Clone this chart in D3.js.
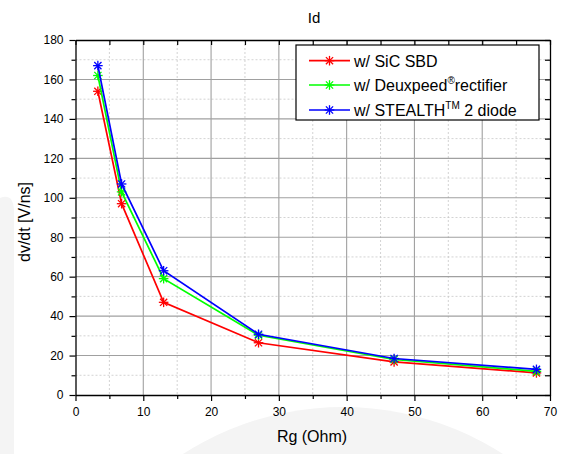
<!DOCTYPE html>
<html><head><meta charset="utf-8">
<script src="https://cdn.jsdelivr.net/npm/d3@7"></script>
<style>body{margin:0;background:#fff}svg{display:block;font-family:"Liberation Sans",Arial,sans-serif}</style>
</head><body><svg id="c" width="562" height="454"></svg>
<script>
const rg = [3.3, 6.8, 13, 27, 47, 68];
const sicSBD = [154, 97, 47, 26.5, 16.8, 11.2];
const deuxpeed = [162, 103, 59, 30.3, 18, 12];
const stealth = [167, 107, 63, 30.8, 18.5, 13];
const xTicks = [0,10,20,30,40,50,60,70];
const yTicks = [0,20,40,60,80,100,120,140,160,180];
const seriesNames = ["w/ SiC SBD", "w/ Deuxpeed", "w/ STEALTH"];
const seriesColors = ["#ff0000", "#00ff00", "#0000ff"];

const svg = d3.select("#c");
const L=75.5, R=550, T=40, B=395;
const x = d3.scaleLinear().domain([0,70]).range([L,R]);
const y = d3.scaleLinear().domain([0,180]).range([B,T]);

// faint watermark
svg.append("circle").attr("cx",343).attr("cy",703).attr("r",296).attr("fill","#f4f4f4");
svg.append("path").attr("d","M0,454 L0,198 Q13,193 14,210 L14,454 Z").attr("fill","#f4f4f4");

// grid
const g = svg.append("g");
d3.range(5,70,10).forEach(v=>g.append("line").attr("x1",x(v)).attr("x2",x(v)).attr("y1",T).attr("y2",B).attr("stroke","#c8c8c8").attr("stroke-dasharray","2,2").attr("stroke-width",0.8));
d3.range(10,180,20).forEach(v=>g.append("line").attr("y1",y(v)).attr("y2",y(v)).attr("x1",L).attr("x2",R).attr("stroke","#c8c8c8").attr("stroke-dasharray","2,2").attr("stroke-width",0.8));
xTicks.slice(1,-1).forEach(v=>g.append("line").attr("x1",x(v)).attr("x2",x(v)).attr("y1",T).attr("y2",B).attr("stroke","#a0a0a0").attr("stroke-width",1.1));
yTicks.slice(1,-1).forEach(v=>g.append("line").attr("y1",y(v)).attr("y2",y(v)).attr("x1",L).attr("x2",R).attr("stroke","#a0a0a0").attr("stroke-width",1.1));

// axes
function styleAx(sel){sel.selectAll(".domain").attr("stroke","#000").attr("stroke-width",1.3);sel.selectAll(".tick line").attr("stroke","#000").attr("stroke-width",1.2);sel.selectAll("text").attr("font-size",12).attr("font-family","Liberation Sans, Arial, sans-serif").attr("fill","#000");}
const xb = svg.append("g").attr("transform",`translate(0,${B})`).call(d3.axisBottom(x).tickValues(xTicks).tickSize(6).tickSizeOuter(0).tickPadding(6)); styleAx(xb);
const xbm = svg.append("g").attr("transform",`translate(0,${B})`).call(d3.axisBottom(x).tickValues(d3.range(5,70,10)).tickSize(4).tickFormat("")); styleAx(xbm); xbm.select(".domain").remove();
const yl = svg.append("g").attr("transform",`translate(${L},0)`).call(d3.axisLeft(y).tickValues(yTicks).tickSize(6).tickSizeOuter(0).tickPadding(6)); styleAx(yl);
const ylm = svg.append("g").attr("transform",`translate(${L},0)`).call(d3.axisLeft(y).tickValues(d3.range(10,180,20)).tickSize(4).tickFormat("")); styleAx(ylm); ylm.select(".domain").remove();
const xt = svg.append("g").attr("transform",`translate(0,${T})`).call(d3.axisBottom(x).tickValues(d3.range(0,71,5)).tickSize(5).tickSizeOuter(0).tickFormat("")); styleAx(xt);
const yr = svg.append("g").attr("transform",`translate(${R},0)`).call(d3.axisLeft(y).tickValues(d3.range(0,181,10)).tickSize(5).tickSizeOuter(0).tickFormat("")); styleAx(yr);

// series
const series = [sicSBD, deuxpeed, stealth];
const line = d3.line().x((d,i)=>x(rg[i])).y(d=>y(d));
function star(sel,cx,cy,col){
  const s=4.8, gg=sel.append("g").attr("transform",`translate(${cx},${cy})`).attr("stroke",col).attr("stroke-width",1.3);
  gg.append("line").attr("x1",-s).attr("x2",s).attr("y1",0).attr("y2",0);
  gg.append("line").attr("x1",0).attr("x2",0).attr("y1",-s).attr("y2",s);
  gg.append("line").attr("x1",-s*0.75).attr("x2",s*0.75).attr("y1",-s*0.75).attr("y2",s*0.75);
  gg.append("line").attr("x1",-s*0.75).attr("x2",s*0.75).attr("y1",s*0.75).attr("y2",-s*0.75);
}
series.forEach((s,k)=>{
  svg.append("path").datum(s).attr("d",line).attr("fill","none").attr("stroke",seriesColors[k]).attr("stroke-width",1.7);
  s.forEach((d,i)=>star(svg,x(rg[i]),y(d),seriesColors[k]));
});

// legend
const lg = svg.append("g");
lg.append("rect").attr("x",296).attr("y",45).attr("width",243).attr("height",75).attr("fill","#fff").attr("stroke","#000").attr("stroke-width",1.2);
const sup = ["", "®", "TM"];
const after = ["", "rectifier", " 2 diode"];
[60.7,85,110].forEach((yy,k)=>{
  lg.append("line").attr("x1",309).attr("x2",350).attr("y1",yy).attr("y2",yy).attr("stroke",seriesColors[k]).attr("stroke-width",1.7);
  star(lg,329.5,yy,seriesColors[k]);
  const t = lg.append("text").attr("x",354).attr("y",yy+6).attr("font-size",16).attr("fill","#000");
  t.append("tspan").text(seriesNames[k]);
  if(sup[k]){
    t.append("tspan").attr("dy",-7).attr("font-size",10).text(sup[k]);
    t.append("tspan").attr("dy",7).text(after[k]);
  }
});

// titles
svg.append("text").attr("x",314).attr("y",23).attr("text-anchor","middle").attr("font-size",15).text("Id");
svg.append("text").attr("x",312).attr("y",442).attr("text-anchor","middle").attr("font-size",16).text("Rg (Ohm)");
svg.append("text").attr("transform","translate(30,222) rotate(-90)").attr("text-anchor","middle").attr("font-size",16).text("dv/dt [V/ns]");
</script></body></html>
